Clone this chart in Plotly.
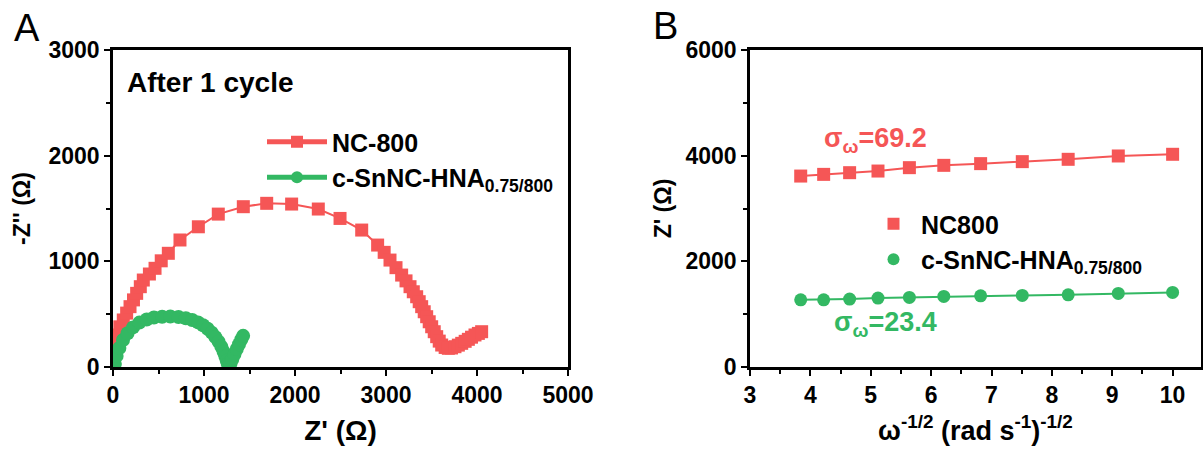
import plotly.graph_objects as go

# ---------------- Panel A data (Nyquist) ----------------
nc800_zre = [20, 40, 75, 113, 150, 187, 225, 260, 300, 333, 400, 462, 530, 608, 736, 938,
             1157, 1432, 1689, 1963, 2256, 2495, 2733, 2908, 2980, 3044, 3110, 3172, 3220,
             3264, 3300, 3337, 3365, 3392, 3420, 3447, 3475, 3502, 3530, 3557, 3585, 3612,
             3650, 3685, 3720, 3758, 3795, 3832, 3870, 3905, 3940, 3978, 4015, 4051]
nc800_zim = [230, 303, 380, 445, 510, 571, 635, 697, 760, 823, 880, 934, 1005, 1076, 1202, 1327,
             1447, 1517, 1549, 1542, 1495, 1406, 1296, 1154, 1085, 1012, 940, 870, 815,
             760, 712, 665, 618, 571, 523, 476, 428, 381, 334, 287, 245, 208,
             185, 177, 180, 192, 207, 224, 243, 262, 282, 303, 318, 334]

sn_zre = [20, 40, 70, 110, 160, 220, 290, 370, 450, 540, 630, 720, 800, 870, 935, 990,
          1040, 1085, 1125, 1160, 1190, 1215, 1235, 1250, 1262, 1275, 1290, 1310, 1335,
          1360, 1385, 1410, 1430]
sn_zim = [30, 105, 180, 255, 320, 375, 420, 450, 468, 476, 478, 473, 462, 445, 422, 395,
          362, 325, 283, 240, 193, 145, 100, 60, 30, 15, 30, 70, 120, 170, 215, 260, 295]

# ---------------- Panel B data (Warburg) ----------------
omega_b = [3.84, 4.22, 4.65, 5.12, 5.64, 6.21, 6.82, 7.51, 8.27, 9.10, 10.0]
nc800_b = [3614, 3646, 3678, 3709, 3773, 3817, 3849, 3887, 3931, 3994, 4026]
sn_b = [1272, 1272, 1285, 1304, 1316, 1335, 1348, 1354, 1367, 1392, 1411]

label_nc_a = "NC-800"
label_sn = "c-SnNC-HNA<sub>0.75/800</sub>"
label_nc_b = "NC800"

RED = "#F55656"
GREEN = "#33B863"
FONT = "Arial, Liberation Sans, sans-serif"

fig = go.Figure()

# Panel A
fig.add_trace(go.Scatter(x=nc800_zre, y=nc800_zim, mode="lines+markers", name=label_nc_a,
                         line=dict(color=RED, width=2),
                         marker=dict(symbol="square", size=13, color=RED),
                         xaxis="x", yaxis="y", legend="legend"))
fig.add_trace(go.Scatter(x=sn_zre, y=sn_zim, mode="lines+markers", name=label_sn,
                         line=dict(color=GREEN, width=2),
                         marker=dict(symbol="circle", size=14, color=GREEN),
                         xaxis="x", yaxis="y", legend="legend"))

# Panel B lines (fits) + markers
fig.add_trace(go.Scatter(x=omega_b, y=nc800_b, mode="lines", showlegend=False,
                         line=dict(color=RED, width=2), xaxis="x2", yaxis="y2"))
fig.add_trace(go.Scatter(x=omega_b, y=sn_b, mode="lines", showlegend=False,
                         line=dict(color=GREEN, width=2), xaxis="x2", yaxis="y2"))
fig.add_trace(go.Scatter(x=omega_b, y=nc800_b, mode="markers", name=label_nc_b,
                         marker=dict(symbol="square", size=13, color=RED),
                         xaxis="x2", yaxis="y2", legend="legend2"))
fig.add_trace(go.Scatter(x=omega_b, y=sn_b, mode="markers", name=label_sn,
                         marker=dict(symbol="circle", size=13, color=GREEN),
                         xaxis="x2", yaxis="y2", legend="legend2"))

tickfont = dict(family=FONT, size=23, color="black", weight="bold")
ytitlefont = dict(family=FONT, size=23, color="black", weight="bold")

axis_common = dict(showline=True, linecolor="black", linewidth=2.5, mirror=True,
                   ticks="outside", ticklen=6, tickwidth=2, tickcolor="black",
                   showgrid=False, zeroline=False, tickfont=tickfont, automargin=False)


def minor(d):
    return dict(ticks="outside", ticklen=4, tickwidth=2, tickcolor="black", dtick=d)


ybot, ytop = 1 - 367 / 455, 1 - 50 / 455
legfont = dict(family=FONT, size=25, color="black", weight="bold")

fig.update_layout(
    width=1203, height=455,
    margin=dict(l=0, r=0, t=0, b=0),
    paper_bgcolor="white", plot_bgcolor="white",
    font=dict(family=FONT, color="black"),
    xaxis=dict(domain=[113 / 1203, 568 / 1203], range=[0, 5000], dtick=1000,
               minor=minor(500),
               title=dict(text="Z' (Ω)", standoff=14,
                          font=dict(family=FONT, size=28, color="black", weight="bold")),
               anchor="y", **axis_common),
    yaxis=dict(domain=[ybot, ytop], range=[0, 3000], dtick=1000,
               minor=minor(500),
               title=dict(text="-Z'' (Ω)", font=ytitlefont, standoff=12),
               anchor="x", **axis_common),
    xaxis2=dict(domain=[750 / 1203, 1201 / 1203], range=[3, 10.47], dtick=1,
                minor=minor(0.5),
                title=dict(text="ω<sup>-1/2</sup> (rad s<sup>-1</sup>)<sup>-1/2</sup>",
                           font=dict(family=FONT, size=27, color="black", weight="bold"),
                           standoff=14),
                anchor="y2", **axis_common),
    yaxis2=dict(domain=[ybot, ytop], range=[0, 6000], dtick=2000,
                minor=minor(1000),
                title=dict(text="Z' (Ω)", font=ytitlefont, standoff=8),
                anchor="x2", **axis_common),
    legend=dict(x=262 / 1203, y=1 - 119 / 455, xanchor="left", yanchor="top",
                bgcolor="rgba(0,0,0,0)", tracegroupgap=0, itemsizing="constant",
                itemwidth=60, font=legfont),
    legend2=dict(x=866 / 1203, y=1 - 201 / 455, xanchor="left", yanchor="top",
                 bgcolor="rgba(0,0,0,0)", tracegroupgap=0, itemsizing="constant",
                 itemwidth=45, font=legfont),
    annotations=[
        dict(text="A", x=27 / 1203, y=1 - 28 / 455, xref="paper", yref="paper",
             xanchor="center", yanchor="middle",
             showarrow=False, font=dict(family=FONT, size=38, color="black")),
        dict(text="B", x=665 / 1203, y=1 - 26 / 455, xref="paper", yref="paper",
             xanchor="center", yanchor="middle",
             showarrow=False, font=dict(family=FONT, size=38, color="black")),
        dict(text="After 1 cycle", x=125 / 1203, y=1 - 82 / 455, xref="paper", yref="paper",
             xanchor="left", yanchor="middle", showarrow=False,
             font=dict(family=FONT, size=28, color="black", weight="bold")),
        dict(text="σ<sub>ω</sub>=69.2", x=5.08, y=4300, xref="x2", yref="y2",
             xanchor="center", yanchor="middle",
             showarrow=False, font=dict(family=FONT, size=27, color=RED, weight="bold")),
        dict(text="σ<sub>ω</sub>=23.4", x=5.25, y=820, xref="x2", yref="y2",
             xanchor="center", yanchor="middle",
             showarrow=False, font=dict(family=FONT, size=27, color=GREEN, weight="bold")),
    ],
)

fig.write_html("out.html")
